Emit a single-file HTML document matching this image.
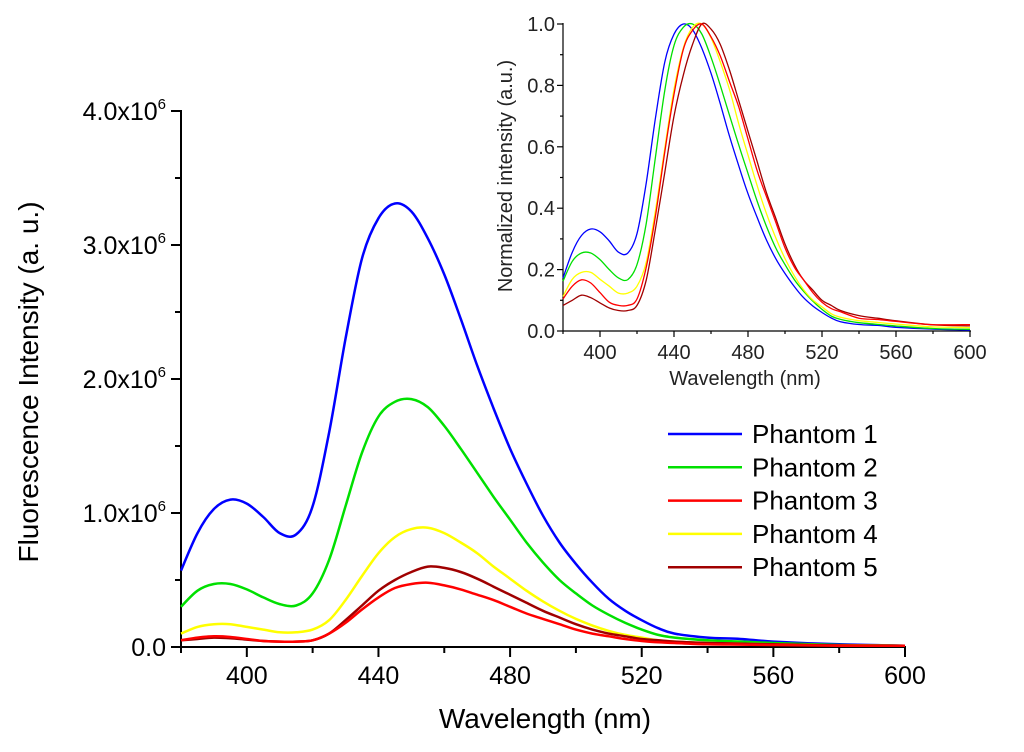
<!DOCTYPE html>
<html><head><meta charset="utf-8"><style>
html,body{margin:0;padding:0;background:#fff;width:1024px;height:752px;overflow:hidden}
svg{display:block;font-family:"Liberation Sans",Arial,sans-serif}
</style></head><body>
<svg id="chart" width="1024" height="752" viewBox="0 0 1024 752"></svg>
<script>
const wavelengths=[380,385,390,395,400,405,410,415,420,425,430,435,440,445,450,455,460,465,470,475,480,485,490,495,500,505,510,515,520,525,530,540,550,560,580,600];
const phantom1=[0.57,0.85,1.03,1.10,1.07,0.97,0.85,0.84,1.05,1.6,2.3,2.9,3.2,3.31,3.25,3.05,2.78,2.45,2.1,1.78,1.48,1.22,0.98,0.78,0.62,0.48,0.36,0.27,0.2,0.14,0.1,0.07,0.06,0.04,0.02,0.01];
const phantom2=[0.3,0.42,0.47,0.47,0.43,0.37,0.32,0.31,0.4,0.65,1.05,1.45,1.72,1.83,1.85,1.79,1.65,1.48,1.3,1.12,0.95,0.78,0.63,0.5,0.4,0.31,0.24,0.18,0.13,0.09,0.07,0.05,0.04,0.03,0.015,0.01];
const phantom3=[0.05,0.07,0.08,0.075,0.06,0.045,0.04,0.04,0.05,0.1,0.18,0.28,0.37,0.44,0.47,0.48,0.46,0.43,0.39,0.35,0.3,0.25,0.21,0.17,0.13,0.1,0.08,0.06,0.045,0.035,0.03,0.02,0.018,0.015,0.01,0.01];
const phantom4=[0.1,0.15,0.17,0.17,0.15,0.13,0.11,0.11,0.13,0.2,0.35,0.53,0.7,0.82,0.88,0.89,0.85,0.78,0.7,0.6,0.51,0.42,0.34,0.27,0.21,0.16,0.12,0.09,0.07,0.05,0.04,0.03,0.025,0.02,0.012,0.01];
const phantom5=[0.05,0.06,0.07,0.065,0.055,0.045,0.04,0.04,0.05,0.1,0.2,0.31,0.42,0.5,0.56,0.6,0.59,0.56,0.51,0.45,0.39,0.33,0.27,0.22,0.17,0.13,0.1,0.08,0.06,0.05,0.04,0.03,0.025,0.02,0.012,0.01];
const seriesNames=["Phantom 1","Phantom 2","Phantom 3","Phantom 4","Phantom 5"];
const seriesColors=["#0000ff","#00e000","#ff0000","#ffff00","#a00000"];
const mainYTicks=[0,1,2,3,4];
const mainXTicks=[400,440,480,520,560,600];
const insetYTicks=[0,0.2,0.4,0.6,0.8,1.0];
const insetXTicks=[400,440,480,520,560,600];
const allSeries=[phantom1,phantom2,phantom3,phantom4,phantom5];
const drawOrder=[0,1,3,4,2];

const svg=document.getElementById('chart');
const NS='http://www.w3.org/2000/svg';
function mk(tag,attrs,parent){const e=document.createElementNS(NS,tag);for(const k in attrs)e.setAttribute(k,attrs[k]);(parent||svg).appendChild(e);return e;}
function smooth(pts){let d='M'+pts[0][0].toFixed(1)+','+pts[0][1].toFixed(1);for(let i=0;i<pts.length-1;i++){const p0=pts[Math.max(0,i-1)],p1=pts[i],p2=pts[i+1],p3=pts[Math.min(pts.length-1,i+2)];const c1=[p1[0]+(p2[0]-p0[0])/6,p1[1]+(p2[1]-p0[1])/6],c2=[p2[0]-(p3[0]-p1[0])/6,p2[1]-(p3[1]-p1[1])/6];d+='C'+c1[0].toFixed(1)+','+c1[1].toFixed(1)+' '+c2[0].toFixed(1)+','+c2[1].toFixed(1)+' '+p2[0].toFixed(1)+','+p2[1].toFixed(1);}return d;}

// main axes
const mx=w=>181+(w-380)*(905-181)/220;
const my=v=>647-v*134;
const axMain=mk('g',{});


mk('line',{x1:181,y1:my(4)-1,x2:181,y2:647,stroke:'#000','stroke-width':2},axMain);
mk('line',{x1:181,y1:647,x2:906,y2:647,stroke:'#000','stroke-width':2},axMain);
for(let v=0;v<=4;v+=0.5){mk('line',{x1:181,x2:v%1===0?171:175,y1:my(v),y2:my(v),stroke:'#000','stroke-width':2},axMain);}
mainYTicks.forEach(v=>{const t=mk('text',{x:166,y:my(v)+9,'text-anchor':'end','font-size':25},axMain);
 if(v===0)t.textContent='0.0';else{t.textContent=v.toFixed(1)+'x10';const s=mk('tspan',{dy:-11,'font-size':15},t);s.textContent='6';}});
for(let w=380;w<=600;w+=20){mk('line',{x1:mx(w),x2:mx(w),y1:647,y2:(w%40===0)?657:653,stroke:'#000','stroke-width':2},axMain);}
mainXTicks.forEach(w=>{const t=mk('text',{x:mx(w),y:684,'text-anchor':'middle','font-size':25},axMain);t.textContent=w;});
let t=mk('text',{x:545,y:728,'text-anchor':'middle','font-size':28});t.textContent='Wavelength (nm)';

t=mk('text',{x:0,y:0,'text-anchor':'middle','font-size':28,transform:'translate(38,382) rotate(-90)'});t.textContent='Fluorescence Intensity (a. u.)';


drawOrder.forEach(i=>{const pts=wavelengths.map((w,j)=>[mx(w),my(allSeries[i][j])]);const p=mk('path',{d:smooth(pts),fill:'none',stroke:seriesColors[i],'stroke-width':2.5});
 });

// legend
seriesNames.forEach((n,i)=>{const y=434+i*33.3;const g=mk('g',{});
 
 mk('line',{x1:668,x2:742,y1:y,y2:y,stroke:seriesColors[i],'stroke-width':2.5},g);
 const tx=mk('text',{x:752,y:y+9,'font-size':26},g);tx.textContent=n;});

// inset
const ix=w=>563+(w-380)*(970-563)/220;
const iy=v=>331-v*307;
const axIn=mk('g',{});


mk('line',{x1:563,y1:iy(1)-1,x2:563,y2:331,stroke:'#000','stroke-width':1.2},axIn);
mk('line',{x1:563,y1:331,x2:971,y2:331,stroke:'#000','stroke-width':1.2},axIn);
for(let v=0;v<=1.001;v+=0.1){mk('line',{x1:563,x2:Math.round(v*10)%2===0?557:560,y1:iy(v),y2:iy(v),stroke:'#000','stroke-width':1.2},axIn);}
insetYTicks.forEach(v=>{const tt=mk('text',{x:555,y:iy(v)+7,'text-anchor':'end','font-size':20,fill:'#222'},axIn);tt.textContent=v.toFixed(1);});
for(let w=380;w<=600;w+=20){mk('line',{x1:ix(w),x2:ix(w),y1:331,y2:(w%40===0)?337:334,stroke:'#000','stroke-width':1.2},axIn);}
insetXTicks.forEach(w=>{const tt=mk('text',{x:ix(w),y:359,'text-anchor':'middle','font-size':20,fill:'#222'},axIn);tt.textContent=w;});
t=mk('text',{x:745,y:385,'text-anchor':'middle','font-size':20,fill:'#222'});t.textContent='Wavelength (nm)';

t=mk('text',{x:0,y:0,'text-anchor':'middle','font-size':20,fill:'#222',transform:'translate(512,176) rotate(-90)'});t.textContent='Normalized intensity (a.u.)';

drawOrder.forEach(i=>{const s=allSeries[i];const m=Math.max(...s);const pts=wavelengths.map((w,j)=>[ix(w),iy(s[j]/m)]);const p=mk('path',{d:smooth(pts),fill:'none',stroke:seriesColors[i],'stroke-width':1.3});
 });
</script>
</body></html>
